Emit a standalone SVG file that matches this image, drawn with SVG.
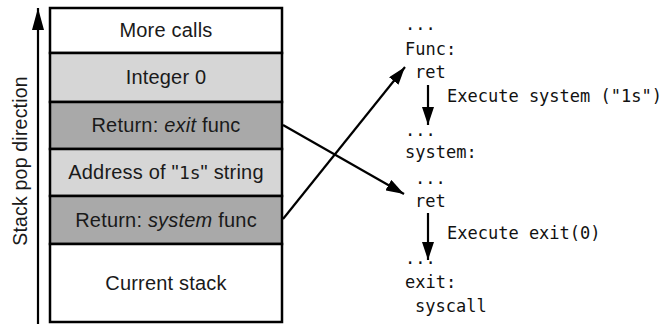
<svg xmlns="http://www.w3.org/2000/svg" width="670" height="324" viewBox="0 0 670 324">
<style>
.row{stroke:#000;stroke-width:2.5}
.lbl{font-family:"Liberation Sans",Arial,sans-serif;font-size:20px;letter-spacing:0.2px;fill:#1a1a1a;text-anchor:middle}
.mono{font-family:"DejaVu Sans Mono","Liberation Mono",monospace;font-size:17px;fill:#111}
.conn{stroke:#000;stroke-width:2.2;fill:none}
</style>
<defs>
<marker id="ah" viewBox="0 0 18 12" refX="18" refY="6" markerWidth="18" markerHeight="12" markerUnits="userSpaceOnUse" orient="auto">
<path d="M0,0 L18,6 L0,12 Z" fill="#000"/>
</marker>
<marker id="ahUp" viewBox="0 0 22 12" refX="22" refY="6" markerWidth="22" markerHeight="12" markerUnits="userSpaceOnUse" orient="auto">
<path d="M0,0 L22,6 L0,12 Z" fill="#000"/>
</marker>
</defs>
<rect width="670" height="324" fill="#fff"/>
<g id="direction">
<line class="conn" x1="38" y1="324" x2="38" y2="8" marker-end="url(#ahUp)"/>
<text class="lbl" transform="translate(27,161) rotate(-90)" x="0" y="0" style="font-size:19.5px">Stack pop direction</text>
</g>
<g id="more-calls">
<rect class="row" x="50" y="8" width="232" height="45" fill="#fff"/>
<text class="lbl" x="166" y="37">More calls</text>
</g>
<g id="integer-0">
<rect class="row" x="50" y="53" width="232" height="49" fill="#d6d6d6"/>
<text class="lbl" x="166" y="84">Integer 0</text>
</g>
<g id="return-exit">
<rect class="row" x="50" y="102" width="232" height="47" fill="#a9a9a9"/>
<text class="lbl" x="166" y="132">Return: <tspan font-style="italic">exit</tspan> func</text>
</g>
<g id="address-1s">
<rect class="row" x="50" y="149" width="232" height="47" fill="#d6d6d6"/>
<text class="lbl" x="166" y="179">Address of "<tspan font-family="'DejaVu Sans Mono',monospace" font-size="18px" letter-spacing="0">1s</tspan>" string</text>
</g>
<g id="return-system">
<rect class="row" x="50" y="196" width="232" height="48" fill="#a9a9a9"/>
<text class="lbl" x="166" y="227">Return: <tspan font-style="italic">system</tspan> func</text>
</g>
<g id="current-stack">
<rect class="row" x="50" y="244" width="232" height="78" fill="#fff"/>
<text class="lbl" x="166" y="290">Current stack</text>
</g>
<g id="code">
<text class="mono" x="405" y="30">...</text>
<text class="mono" x="405" y="55">Func:</text>
<text class="mono" x="415" y="78">ret</text>
<text class="mono" x="447" y="102">Execute system ("1s")</text>
<text class="mono" x="405" y="136">...</text>
<text class="mono" x="405" y="158">system:</text>
<text class="mono" x="415" y="184">...</text>
<text class="mono" x="415" y="207">ret</text>
<text class="mono" x="447" y="239">Execute exit(0)</text>
<text class="mono" x="405" y="264">...</text>
<text class="mono" x="405" y="288">exit:</text>
<text class="mono" x="415" y="312">syscall</text>
</g>
<g id="connectors">
<line class="conn" x1="283" y1="219" x2="405" y2="67" marker-end="url(#ah)"/>
<line class="conn" x1="283" y1="125" x2="404" y2="194" marker-end="url(#ah)"/>
<line class="conn" x1="428" y1="85" x2="428" y2="125" marker-end="url(#ah)"/>
<line class="conn" x1="428" y1="213" x2="428" y2="260" marker-end="url(#ah)"/>
</g>
</svg>
